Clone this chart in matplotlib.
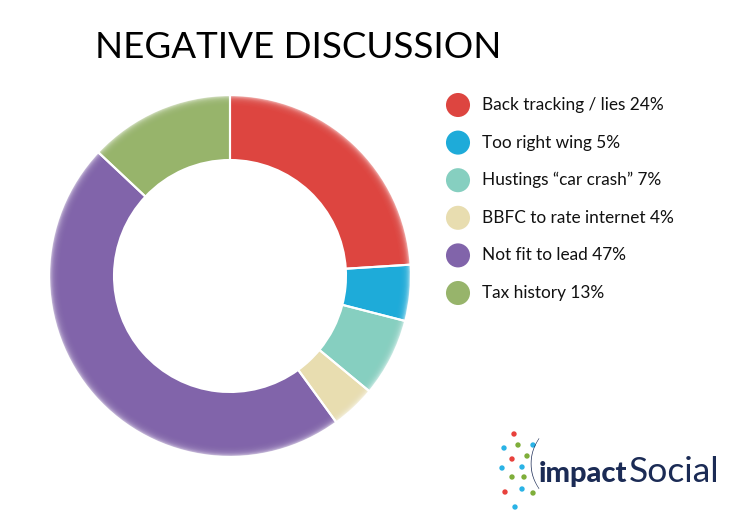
import matplotlib
matplotlib.use("Agg")
import matplotlib.pyplot as plt
import matplotlib.transforms as mtransforms
import numpy as np

# ---- data ----
categories = ["Back tracking / lies", "Too right wing", "Hustings \u201ccar crash\u201d",
              "BBFC to rate internet", "Not fit to lead", "Tax history"]
values = [24, 5, 7, 4, 47, 13]
colors = ["#DD4540", "#1EABD9", "#86CFC0", "#E8DDB0", "#8164AA", "#97B46B"]
title = "NEGATIVE DISCUSSION"

W, H = 736, 525
fig = plt.figure(figsize=(W / 100, H / 100), dpi=100)
fig.patch.set_facecolor("white")

FONT = ["Lato", "DejaVu Sans"]

# ---- donut ----
cx, cy, R = 230, 276, 181
ax = fig.add_axes([(cx - R) / W, (H - cy - R) / H, 2 * R / W, 2 * R / H])
ax.set_xlim(-1, 1)
ax.set_ylim(-1, 1)
ax.set_aspect("equal")
ax.axis("off")

inner = 116 / R
solid = 0.94
steps = 16
edges = np.linspace(solid, 1.0, steps + 1)
a = 0.22
for k in range(steps):
    r = edges[k + 1]
    ax.pie(values, colors=colors, startangle=90, counterclock=False,
           radius=r, wedgeprops=dict(width=r - solid + 0.01,
                                     alpha=a, edgecolor="none", linewidth=0))
ax.pie(values, colors=colors, startangle=90, counterclock=False, radius=solid,
       wedgeprops=dict(width=solid - inner, edgecolor="none", linewidth=0))
ax.pie(values, startangle=90, counterclock=False, radius=1.0,
       wedgeprops=dict(width=1.0 - inner, facecolor="none", edgecolor="white", linewidth=1.5))
ax.set_xlim(-1, 1)
ax.set_ylim(-1, 1)

# ---- overlay for title, legend, logo ----
ov = fig.add_axes([0, 0, 1, 1])
ov.set_xlim(0, W)
ov.set_ylim(H, 0)
ov.axis("off")

ov.text(95, 47, title, fontsize=26.5, family=FONT, color="black", va="center", ha="left")

lx, ly0, dy = 458, 105, 37.6
for i, (c, v, col) in enumerate(zip(categories, values, colors)):
    y = ly0 + i * dy
    ov.scatter([lx], [y], s=300, color=col, edgecolors="none")
    ov.text(482, y, f"{c} {v}%", fontsize=12.4, family=FONT, color="#111111",
            va="center", ha="left")

# ---- logo ----
dot_x = [514, 504, 518, 533, 512, 527, 502, 522, 512, 524, 505, 522, 533, 515]
dot_y = [434, 448, 445, 445, 459, 456, 468, 467, 477, 477, 492, 489, 493, 507]
dot_c = ["#E8413C", "#2AB3E6", "#7FAE3A", "#2AB3E6", "#E8413C", "#7FAE3A", "#2AB3E6",
         "#2AB3E6", "#7FAE3A", "#7FAE3A", "#E8413C", "#2AB3E6", "#7FAE3A", "#2AB3E6"]
ov.scatter(dot_x, dot_y, s=15, c=dot_c, edgecolors="none")
navy = "#1B2B55"
ov.text(526, 466, "(", fontsize=42, family=FONT, color=navy, va="center", ha="left",
        fontweight="light")
t1 = ov.text(539, 482, "impact", fontsize=21, family=FONT, color=navy, va="baseline",
             ha="left", fontweight="black")
fig.canvas.draw()
bb = t1.get_window_extent(renderer=fig.canvas.get_renderer())
ov.text(bb.x1 + 1, 482, "Social", fontsize=25.5, family=FONT, color=navy,
        va="baseline", ha="left",
        transform=mtransforms.blended_transform_factory(mtransforms.IdentityTransform(),
                                                        ov.transData))

fig.savefig("out.png", dpi=100, facecolor="white")
